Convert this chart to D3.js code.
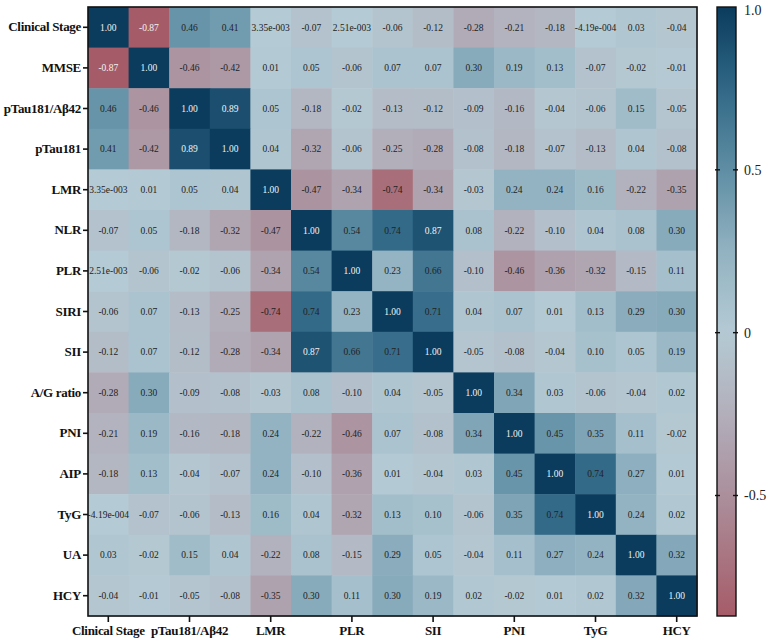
<!DOCTYPE html>
<html>
<head>
<meta charset="utf-8">
<script src="https://cdn.jsdelivr.net/npm/d3@7/dist/d3.min.js"></script>
<style>
  body { margin: 0; background: #fff; }
  svg text { font-family: "Liberation Serif", "DejaVu Serif", serif; }
  .lab { font-weight: bold; font-size: 13px; letter-spacing: -0.3px; fill: #111; }
  .cell-txt { font-size: 9.5px; }
  .cb-txt { font-size: 14px; fill: #222; }
</style>
</head>
<body>
<div id="chart"></div>
<script>
// variables, same order on both axes
var variables = ["Clinical Stage", "MMSE", "pTau181/A\u03b242", "pTau181", "LMR", "NLR", "PLR",
  "SIRI", "SII", "A/G ratio", "PNI", "AIP", "TyG", "UA", "HCY"];

// correlation rows
var rStage = [1.00, -0.87, 0.46, 0.41, 3.35e-3, -0.07, 2.51e-3, -0.06, -0.12, -0.28, -0.21, -0.18, -4.19e-4, 0.03, -0.04];
var rMMSE  = [-0.87, 1.00, -0.46, -0.42, 0.01, 0.05, -0.06, 0.07, 0.07, 0.30, 0.19, 0.13, -0.07, -0.02, -0.01];
var rRatio = [0.46, -0.46, 1.00, 0.89, 0.05, -0.18, -0.02, -0.13, -0.12, -0.09, -0.16, -0.04, -0.06, 0.15, -0.05];
var rTau   = [0.41, -0.42, 0.89, 1.00, 0.04, -0.32, -0.06, -0.25, -0.28, -0.08, -0.18, -0.07, -0.13, 0.04, -0.08];
var rLMR   = [3.35e-3, 0.01, 0.05, 0.04, 1.00, -0.47, -0.34, -0.74, -0.34, -0.03, 0.24, 0.24, 0.16, -0.22, -0.35];
var rNLR   = [-0.07, 0.05, -0.18, -0.32, -0.47, 1.00, 0.54, 0.74, 0.87, 0.08, -0.22, -0.10, 0.04, 0.08, 0.30];
var rPLR   = [2.51e-3, -0.06, -0.02, -0.06, -0.34, 0.54, 1.00, 0.23, 0.66, -0.10, -0.46, -0.36, -0.32, -0.15, 0.11];
var rSIRI  = [-0.06, 0.07, -0.13, -0.25, -0.74, 0.74, 0.23, 1.00, 0.71, 0.04, 0.07, 0.01, 0.13, 0.29, 0.30];
var rSII   = [-0.12, 0.07, -0.12, -0.28, -0.34, 0.87, 0.66, 0.71, 1.00, -0.05, -0.08, -0.04, 0.10, 0.05, 0.19];
var rAG    = [-0.28, 0.30, -0.09, -0.08, -0.03, 0.08, -0.10, 0.04, -0.05, 1.00, 0.34, 0.03, -0.06, -0.04, 0.02];
var rPNI   = [-0.21, 0.19, -0.16, -0.18, 0.24, -0.22, -0.46, 0.07, -0.08, 0.34, 1.00, 0.45, 0.35, 0.11, -0.02];
var rAIP   = [-0.18, 0.13, -0.04, -0.07, 0.24, -0.10, -0.36, 0.01, -0.04, 0.03, 0.45, 1.00, 0.74, 0.27, 0.01];
var rTyG   = [-4.19e-4, -0.07, -0.06, -0.13, 0.16, 0.04, -0.32, 0.13, 0.10, -0.06, 0.35, 0.74, 1.00, 0.24, 0.02];
var rUA    = [0.03, -0.02, 0.15, 0.04, -0.22, 0.08, -0.15, 0.29, 0.05, -0.04, 0.11, 0.27, 0.24, 1.00, 0.32];
var rHCY   = [-0.04, -0.01, -0.05, -0.08, -0.35, 0.30, 0.11, 0.30, 0.19, 0.02, -0.02, 0.01, 0.02, 0.32, 1.00];

var rows = [rStage, rMMSE, rRatio, rTau, rLMR, rNLR, rPLR, rSIRI, rSII, rAG, rPNI, rAIP, rTyG, rUA, rHCY];

var colorbarTicks = [1.0, 0.5, 0, -0.5];
var colorbarLabels = ["1.0", "0.5", "0", "-0.5"];
var colorMin = -0.87, colorMax = 1.0;

var svgWidth = 767, svgHeight = 644;
var margin = { top: 7, left: 88 };
var size = 609;

var svg = d3.select("#chart").append("svg")
  .attr("width", svgWidth)
  .attr("height", svgHeight);

var g = svg.append("g").attr("transform", `translate(${margin.left}, ${margin.top})`);

var x = d3.scaleBand().domain(variables).range([0, size]);
var y = d3.scaleBand().domain(variables).range([0, size]);

var color = d3.scaleLinear()
  .domain([-0.87, -0.5, -0.25, 0, 0.25, 0.5, 0.75, 1.0])
  .range(["#a65c68", "#ab8f9c", "#b2afbb", "#b4cad4", "#92b2c1", "#5f8ea4", "#316886", "#0b3c5d"])
  .interpolate(d3.interpolateRgb)
  .clamp(true);

function fmt(v) {
  if (v !== 0 && Math.abs(v) < 0.005) {
    var s = v.toExponential(2).split("e");
    var ex = +s[1];
    return s[0] + "e" + (ex < 0 ? "-" : "+") + String(Math.abs(ex)).padStart(3, "0");
  }
  return v.toFixed(2);
}

var cells = [];
rows.forEach(function(row, i) {
  row.forEach(function(v, j) {
    cells.push({ row: variables[i], col: variables[j], value: v });
  });
});

g.selectAll("rect.cell")
  .data(cells)
  .enter()
  .append("rect")
  .attr("class", "cell")
  .attr("x", d => x(d.col))
  .attr("y", d => y(d.row))
  .attr("width", x.bandwidth() + 0.5)
  .attr("height", y.bandwidth() + 0.5)
  .attr("fill", d => color(d.value));

g.selectAll("text.cell-txt")
  .data(cells)
  .enter()
  .append("text")
  .attr("class", "cell-txt")
  .attr("x", d => x(d.col) + x.bandwidth() / 2)
  .attr("y", d => y(d.row) + y.bandwidth() / 2)
  .attr("dy", "0.35em")
  .attr("text-anchor", "middle")
  .attr("fill", d => Math.abs(d.value) >= 0.8 ? "#f2f2f2" : "#222")
  .text(d => fmt(d.value));

// frame
g.append("rect")
  .attr("width", size)
  .attr("height", size)
  .attr("fill", "none")
  .attr("stroke", "#111")
  .attr("stroke-width", 1.6);

// axes
var leftAxis = d3.axisLeft(y).tickSize(5).tickPadding(2);
var bottomAxis = d3.axisBottom(x).tickSize(6).tickPadding(4)
  .tickValues(variables.filter((d, i) => i % 2 === 0));

var la = g.append("g").call(leftAxis);
var ba = g.append("g").attr("transform", `translate(0, ${size})`).call(bottomAxis);
[la, ba].forEach(function(a) {
  a.attr("font-family", null).attr("font-size", null);
  a.select(".domain").remove();
  a.selectAll("line").attr("stroke", "#111").attr("stroke-width", 1.6);
  a.selectAll("text").attr("class", "lab").attr("fill", null);
});

// colorbar
var cbX = 717, cbW = 19;
var cy = d3.scaleLinear().domain([colorMax, colorMin]).range([margin.top, margin.top + size]);

var defs = svg.append("defs");
var grad = defs.append("linearGradient")
  .attr("id", "cbgrad")
  .attr("x1", 0).attr("y1", 0).attr("x2", 0).attr("y2", 1);
d3.range(0, 41).forEach(function(k) {
  var v = colorMax - (colorMax - colorMin) * k / 40;
  grad.append("stop").attr("offset", (k / 40 * 100) + "%").attr("stop-color", color(v));
});

svg.append("rect")
  .attr("x", cbX).attr("y", margin.top)
  .attr("width", cbW).attr("height", size)
  .attr("fill", "url(#cbgrad)")
  .attr("stroke", "#111")
  .attr("stroke-width", 1.4);

var cbTick = svg.append("g");
colorbarTicks.forEach(function(t, i) {
  var yy = cy(t);
  if (i > 0) {
    cbTick.append("line").attr("x1", cbX - 2).attr("x2", cbX + 3).attr("y1", yy).attr("y2", yy)
      .attr("stroke", "#111").attr("stroke-width", 1.4);
    cbTick.append("line").attr("x1", cbX + cbW - 3).attr("x2", cbX + cbW + 2).attr("y1", yy).attr("y2", yy)
      .attr("stroke", "#111").attr("stroke-width", 1.4);
  }
  cbTick.append("text")
    .attr("class", "cb-txt")
    .attr("x", cbX + cbW + 8)
    .attr("y", i === 0 ? yy + 3 : yy)
    .attr("dy", "0.35em")
    .text(colorbarLabels[i]);
});
</script>
</body>
</html>
